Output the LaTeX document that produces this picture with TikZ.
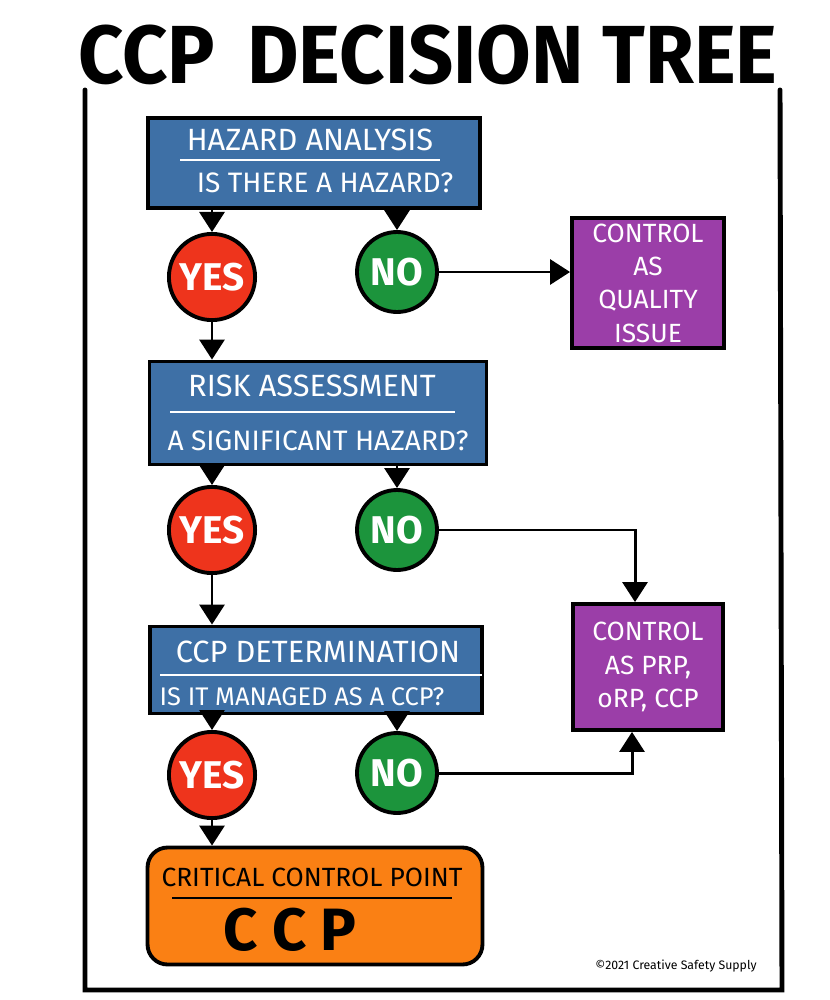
\documentclass[tikz,border=0pt]{standalone}
\usepackage{fontspec}
\setmainfont{Fira Sans}
\setsansfont{Fira Sans}
\usetikzlibrary{arrows.meta}
\definecolor{boxblue}{RGB}{62,112,166}
\definecolor{yesred}{RGB}{238,52,28}
\definecolor{nogreen}{RGB}{28,148,60}
\definecolor{ctrlpurple}{RGB}{155,62,168}
\definecolor{ccporange}{RGB}{250,128,20}

\begin{document}
\begin{tikzpicture}[x=0.02cm,y=-0.02cm,
  >={Triangle[length=4mm,width=5mm]},
  stage/.style={draw=black,fill=boxblue,line width=2.2pt},
  yes/.style={circle,draw=black,fill=yesred,line width=2.2pt,minimum size=1.6cm,text=white,font=\bfseries\fontsize{22}{22}\selectfont},
  no/.style={circle,draw=black,fill=nogreen,line width=2.2pt,minimum size=1.6cm,text=white,font=\bfseries\fontsize{22}{22}\selectfont},
  ctrl/.style={draw=black,fill=ctrlpurple,line width=2.2pt,minimum width=3.04cm,minimum height=2.54cm,text=white,align=center,font=\fontsize{15}{19}\selectfont},
  head/.style={text=white,font=\fontsize{17.5}{17.5}\selectfont},
  ask/.style={text=white,font=\fontsize{16}{16}\selectfont},
  link/.style={->,line width=1.7pt}]
\useasboundingbox (0,0) rectangle (829,1000);
\node (title) at (428,55) {\bfseries\fontsize{46}{46}\selectfont\scalebox{0.98}[1.02]{CCP\, DECISION TREE}};
\draw[line width=2.8pt,line cap=round] (85,90) -- (85,990) -- (782,990) -- (780,90);

\node[stage,minimum width=6.64cm,minimum height=1.8cm] (hz) at (314,163) {};
\node[head] (hzt) at (310,140) {HAZARD ANALYSIS};
\draw[white,line width=1.2pt] (180,160) -- (440,160);
\node[ask] (hzq) at (325,183) {IS THERE A HAZARD?};

\node[yes] (y1) at (212,277) {YES};
\node[no] (n1) at (397,272) {NO};
\node[ctrl] (q1) at (648,283) {CONTROL\\AS\\QUALITY\\ISSUE};

\node[stage,minimum width=6.74cm,minimum height=2.06cm] (rk) at (318,413) {};
\node[head] (rkt) at (312,386) {RISK ASSESSMENT};
\draw[white,line width=1.2pt] (170,412) -- (455,412);
\node[ask] (rkq) at (318,441) {A SIGNIFICANT HAZARD?};

\node[yes] (y2) at (212,530) {YES};
\node[no] (n2) at (397,530) {NO};
\node[ctrl,minimum width=3cm,minimum height=2.52cm] (q2) at (648,667) {CONTROL\\AS PRP,\\oRP, CCP};

\node[stage,minimum width=6.64cm,minimum height=1.74cm] (cd) at (316,670) {};
\node[head] (cdt) at (318,652) {CCP DETERMINATION};
\draw[white,line width=1.2pt] (160,675) -- (482,675);
\node[ask,font=\fontsize{14.5}{14.5}\selectfont] (cdq) at (302,697) {IS IT MANAGED AS A CCP?};

\node[yes] (y3) at (212,775) {YES};
\node[no] (n3) at (397,773) {NO};

\node[draw=black,fill=ccporange,line width=2.2pt,rounded corners=0.4cm,minimum width=6.7cm,minimum height=2.34cm] (cp) at (315,906) {};
\node[font=\fontsize{15}{15}\selectfont] (cpt) at (312,877) {CRITICAL CONTROL POINT};
\draw[line width=1.2pt] (172,898) -- (452,898);
\node[font=\bfseries\fontsize{34}{34}\selectfont] (cpc) at (290,930) {C C P};

\node[font=\fontsize{7}{7}\selectfont] (copy) at (676,966) {\textcopyright2021 Creative Safety Supply};

\draw[link] (hz.south -| y1) -- (y1);
\draw[link] (hz.south -| n1) -- (n1);
\draw[link] (n1.east) -- (n1.east -| q1.west);
\draw[link] (y1) -- (y1 |- rk.north);
\draw[link] (rk.south -| y2) -- (y2);
\draw[link] (rk.south -| n2) -- (n2);
\draw[link] (n2.east) -| ([xshift=-0.26cm]q2.north);
\draw[link] (y2) -- (y2 |- cd.north);
\draw[link] (cd.south -| y3) -- (y3);
\draw[link] (cd.south -| n3) -- (n3);
\draw[link] (n3.east) -| ([xshift=-0.32cm]q2.south);
\draw[link] (y3) -- (y3 |- cp.north);
\end{tikzpicture}
\end{document}
